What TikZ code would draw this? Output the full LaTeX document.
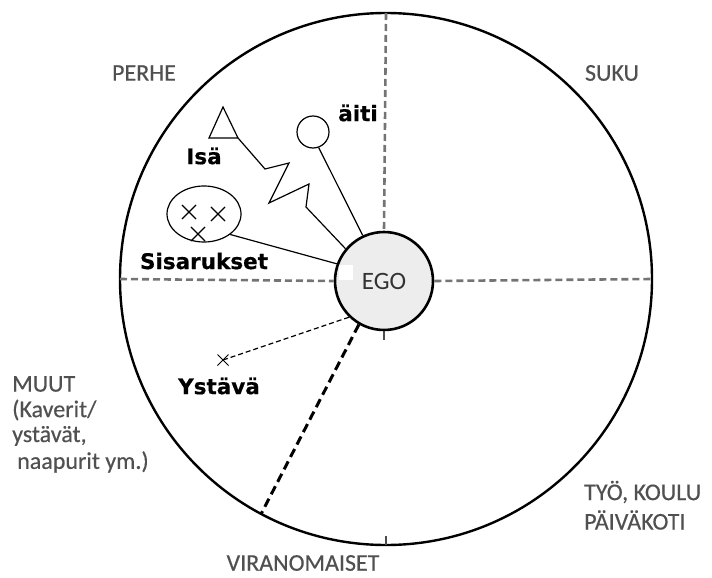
\documentclass[tikz,border=0pt]{standalone}
\usepackage{fontspec}
\setmainfont{Carlito}
\newfontfamily\sectorfont{Carlito}[FakeBold=0.4]
\newfontfamily\boldlbl{DejaVu Sans}[FakeBold=0.5]
\usetikzlibrary{shapes.geometric,shapes.misc}
\definecolor{lblgray}{HTML}{505050}
\definecolor{axisgray}{HTML}{747474}
\definecolor{egofill}{HTML}{EDEDED}
\tikzset{
  sector/.style={font=\sectorfont\fontsize{24}{27}\selectfont, text=lblgray, inner sep=0pt},
  person/.style={font=\boldlbl\bfseries\fontsize{21.5}{25}\selectfont, inner sep=0pt},
  axis/.style={draw=axisgray, line width=2.6pt, dash pattern=on 7pt off 4pt},
  tie/.style={draw=black, line width=1.2pt},
  xmark/.style={cross out, draw, line width=1.1pt, minimum size=13pt, inner sep=0pt},
}
\begin{document}
\begin{tikzpicture}[x=1pt,y=-1pt]
\path[use as bounding box, fill=white] (0,0) rectangle (712,578);

% big circle
\node[circle, draw, line width=2.4pt, minimum size=532pt, inner sep=0pt, outer sep=0pt] (outer) at (386,279) {};

% EGO
\node[circle, draw, line width=2.6pt, fill=egofill, minimum size=98pt, inner sep=0pt,
      font=\fontsize{25}{28}\selectfont, text=black!80] (ego) at (384,281) {EGO};
\fill[white] (339,265) rectangle (353,280);

% axes
\draw[axis] (outer.north) -- (ego.north);
\draw[axis] (outer.west) -- (ego.west);
\draw[axis] (ego.east) -- (outer.east);
\draw[black!70, line width=1.4pt] (ego.south) -- ++(0,9);
\draw[black!70, line width=1.4pt] (outer.south) -- ++(0,-9);
\draw[black, line width=3pt, dash pattern=on 9pt off 5pt] (ego.240) -- (outer.242);

% father (triangle)
\coordinate (isaA) at (223,107);
\coordinate (isaL) at (209,138);
\coordinate (isa) at (238,138);
\draw[tie, line join=miter] (isaA) -- (isaL) -- (isa) -- cycle;
\draw[tie] (isa) -- (265,169) -- (289,163) -- (269,203) -- (309,184) -- (306,207) -- (ego.140);

% mother (circle)
\node[circle, draw, line width=1.2pt, minimum size=32pt, inner sep=0pt] (aiti) at (313,132) {};
\draw[tie] (aiti.-70) -- (ego.115);

% siblings (ellipse)
\node[ellipse, draw, line width=1.2pt, minimum width=74pt, minimum height=56pt, inner sep=0pt] (sib) at (204,214) {};
\node[xmark] (s1) at (189,212) {};
\node[xmark] (s2) at (218,214) {};
\node[xmark] (s3) at (198,234) {};
\draw[tie] (sib.-38) -- (ego.160);

% friend
\node[cross out, draw, line width=1pt, minimum size=10pt, inner sep=0pt] (ystava) at (223,360) {};
\draw[black, line width=1.2pt, dash pattern=on 5pt off 3pt] (ystava.center) -- (ego.226);

% person labels
\node[person] (laiti) at (358,113) {äiti};
\node[person] (lisa) at (204,156) {Isä};
\node[person] (lsis) at (204,261) {Sisarukset};
\node[person] (lyst) at (219,386) {Ystävä};

% sector labels
\node[sector] (perhe) at (144,73) {PERHE};
\node[sector] (suku) at (612,73) {SUKU};
\node[sector, anchor=west] (muut1) at (12,384) {MUUT};
\node[sector, anchor=west] (muut2) at (12,410) {(Kaverit/};
\node[sector, anchor=west] (muut3) at (12,436) {ystävät,};
\node[sector, anchor=west] (muut4) at (17,462) {naapurit ym.)};
\node[sector, anchor=west] (tyo1) at (584,492) {TYÖ, KOULU};
\node[sector, anchor=west] (tyo2) at (584,520) {PÄIVÄKOTI};
\node[sector] (viran) at (303,563) {VIRANOMAISET};
\end{tikzpicture}
\end{document}
